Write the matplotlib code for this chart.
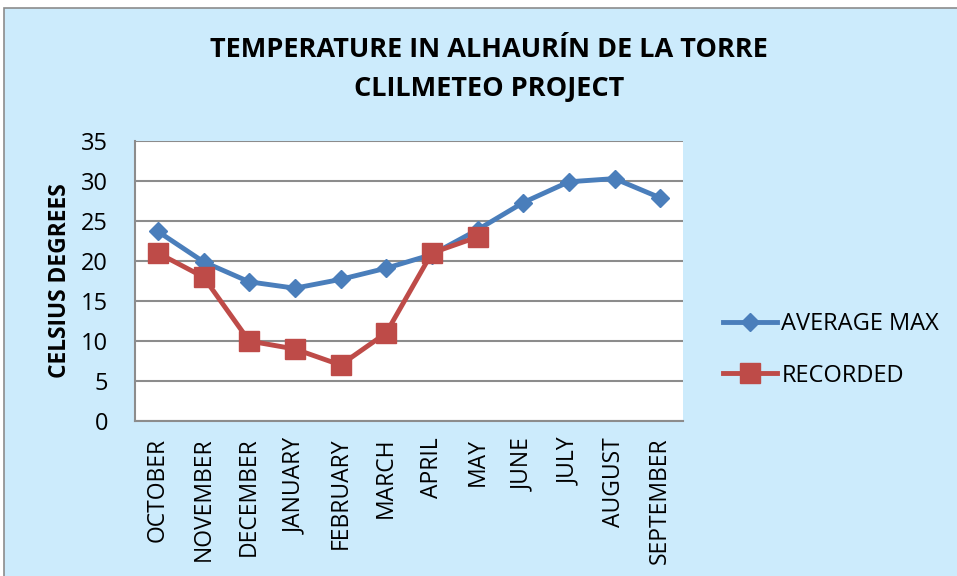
import matplotlib
matplotlib.use("Agg")
import matplotlib.pyplot as plt
import numpy as np
from matplotlib.patches import Rectangle

months = ["OCTOBER", "NOVEMBER", "DECEMBER", "JANUARY", "FEBRUARY", "MARCH",
          "APRIL", "MAY", "JUNE", "JULY", "AUGUST", "SEPTEMBER"]
average_max = [23.7, 19.9, 17.4, 16.6, 17.7, 19.1, 20.8, 23.9, 27.3, 29.9, 30.3, 27.9]
recorded = [21, 18, 10, 9, 7, 11, 21, 23, None, None, None, None]
yticks = [0, 5, 10, 15, 20, 25, 30, 35]

plt.rcParams['font.family'] = ['Open Sans', 'DejaVu Sans']

W, H = 957, 576
fig = plt.figure(figsize=(W / 100, H / 100), dpi=100)
fig.patch.set_facecolor('white')
bg = '#CCEBFC'
fig.patches.append(Rectangle((4 / W, -0.01), 1.0, (576 - 8) / H + 0.01,
                             transform=fig.transFigure, facecolor=bg,
                             edgecolor='#8C8C8C', linewidth=1.2, zorder=-10))

ax = fig.add_axes([135 / W, (H - 421) / H, (683 - 135) / W, (421 - 141) / H])
ax.set_facecolor('white')

x = np.arange(len(months))
rec = np.array([np.nan if v is None else v for v in recorded], dtype=float)

ax.plot(x, average_max, color='#4A7EBB', linewidth=3.5, marker='D',
        markersize=9.2, label='AVERAGE MAX', zorder=3)
ax.plot(x, rec, color='#BE4B48', linewidth=3.5, marker='s',
        markersize=13.8, label='RECORDED', zorder=4)

ax.set_xlim(-0.5, len(months) - 0.5)
ax.set_ylim(0, 35)
ax.set_yticks(yticks)
ax.set_yticklabels([str(v) for v in yticks], fontsize=17)
ax.set_xticks(x)
ax.set_xticklabels(months, rotation=90, fontsize=16.5, va='top')
ax.tick_params(axis='both', length=0)
ax.tick_params(axis='y', pad=19.5)
ax.tick_params(axis='x', pad=12)
ax.yaxis.grid(True, color='#8C8C8C', linewidth=1.5)
ax.set_axisbelow(True)
for s in ['top', 'right']:
    ax.spines[s].set_visible(False)
for s in ['left', 'bottom']:
    ax.spines[s].set_color('#8C8C8C')
    ax.spines[s].set_linewidth(1.5)

fig.text(60 / W, 1 - 281 / H, 'CELSIUS DEGREES', rotation=90, fontsize=16.4,
         fontweight='bold', ha='center', va='center')

fig.text(489 / W, 1 - 50 / H, 'TEMPERATURE IN ALHAURÍN DE LA TORRE',
         fontsize=19.5, fontweight='bold', ha='center', va='center')
fig.text(489 / W, 1 - 89 / H, 'CLILMETEO PROJECT',
         fontsize=19.5, fontweight='bold', ha='center', va='center')

leg = fig.legend(loc='center left', bbox_to_anchor=(723 / W, 1 - 350 / H),
                 frameon=False, fontsize=17, handlelength=2.3,
                 handletextpad=0.17, labelspacing=1.15, borderpad=0,
                 borderaxespad=0)

fig.savefig('out.png', dpi=100, facecolor=fig.get_facecolor())
